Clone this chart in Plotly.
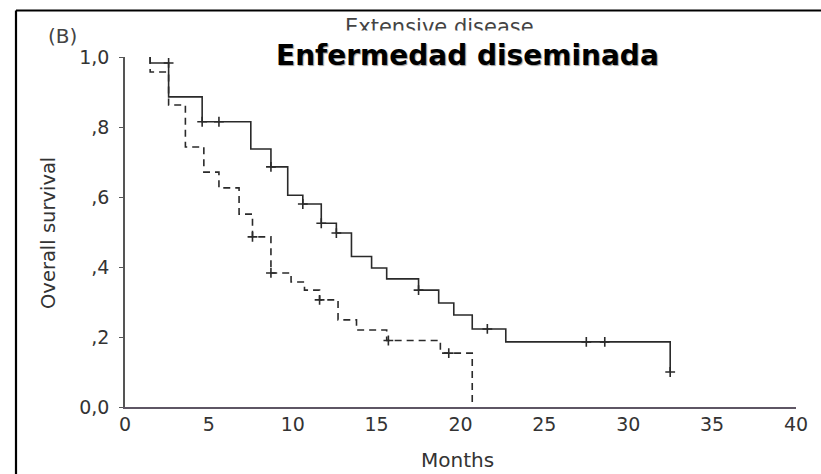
import plotly.graph_objects as go

# Kaplan-Meier step curves (months, cumulative survival)
solid_t = [1.5, 1.5, 2.6, 4.6, 7.5, 8.7, 9.7, 10.6, 11.7, 12.6, 13.5, 14.7, 15.6, 17.5, 18.7, 19.6, 20.7, 22.7, 32.5]
solid_s = [1.0, 0.983, 0.886, 0.815, 0.737, 0.686, 0.605, 0.58, 0.525, 0.497, 0.43, 0.397, 0.366, 0.334, 0.297, 0.263, 0.223, 0.186, 0.10]
solid_cens_t = [2.6, 4.6, 5.6, 8.7, 10.6, 11.7, 12.6, 17.5, 21.6, 27.5, 28.6, 32.5]
solid_cens_s = [0.983, 0.815, 0.815, 0.686, 0.58, 0.525, 0.497, 0.334, 0.223, 0.186, 0.186, 0.10]

dashed_t = [1.5, 1.5, 2.6, 3.6, 4.7, 5.6, 6.8, 7.6, 8.7, 9.9, 10.7, 11.6, 12.7, 13.8, 15.6, 18.8, 20.7]
dashed_s = [1.0, 0.957, 0.863, 0.743, 0.671, 0.626, 0.551, 0.486, 0.383, 0.357, 0.334, 0.306, 0.249, 0.22, 0.19, 0.154, 0.0]
dashed_cens_t = [7.6, 8.7, 11.6, 15.7, 19.3]
dashed_cens_s = [0.486, 0.383, 0.306, 0.19, 0.154]

x_ticks = [0, 5, 10, 15, 20, 25, 30, 35, 40]
y_ticks = [0, 0.2, 0.4, 0.6, 0.8, 1.0]
y_tick_labels = ["0,0", ",2", ",4", ",6", ",8", "1,0"]

LINE = "#2a2a2a"
FONT = "DejaVu Sans"

fig = go.Figure()

fig.add_trace(go.Scatter(x=solid_t, y=solid_s, mode="lines", line_shape="hv",
                         line=dict(color=LINE, width=1.6), cliponaxis=False, showlegend=False))
fig.add_trace(go.Scatter(x=dashed_t, y=dashed_s, mode="lines", line_shape="hv",
                         line=dict(color=LINE, width=1.6, dash="7px,5px"), cliponaxis=False, showlegend=False))
for ct, cs in ((solid_cens_t, solid_cens_s), (dashed_cens_t, dashed_cens_s)):
    fig.add_trace(go.Scatter(x=ct, y=cs, mode="markers", cliponaxis=False, showlegend=False,
                             marker=dict(symbol="cross-thin", size=7,
                                         line=dict(color=LINE, width=1.6))))

# plot area geometry (px)
L, R, T, B = 125, 25, 57, 67
W, H = 821 - L - R, 474 - T - B


def px(xp):
    return (xp - L) / W


def py(yp):
    return (474 - B - yp) / H


fig.update_layout(
    width=821, height=474,
    margin=dict(l=L, r=R, t=T, b=B, autoexpand=False),
    paper_bgcolor="white", plot_bgcolor="white",
    font=dict(family=FONT, color="#333333"),
    xaxis=dict(range=[0, 40], tickvals=x_ticks, showgrid=False, zeroline=False, automargin=False,
               showline=True, linecolor="#5e5664", linewidth=1.5, ticks="",
               ticklabelstandoff=-1, tickfont=dict(size=19, color="#333333")),
    yaxis=dict(range=[0, 1.0], tickvals=y_ticks, ticktext=y_tick_labels, showgrid=False,
               zeroline=False, showline=True, linecolor="#555555", linewidth=1.5, automargin=False,
               ticks="outside", ticklen=4, tickcolor="#555555", tickwidth=1.2,
               ticklabelstandoff=6, tickfont=dict(size=19, color="#333333")),
    shapes=[
        dict(type="line", xref="paper", yref="paper", x0=px(16), x1=px(830), y0=py(10.5), y1=py(10.5),
             line=dict(color="black", width=2.2)),
        dict(type="line", xref="paper", yref="paper", x0=px(16), x1=px(16), y0=py(10.5), y1=py(480),
             line=dict(color="black", width=2.2)),
    ],
    annotations=[
        # axis titles
        dict(text="Months", xref="paper", yref="paper", x=px(457), y=py(460), showarrow=False,
             xanchor="center", yanchor="middle", font=dict(size=20, color="#333333")),
        dict(text="Overall survival", xref="paper", yref="paper", x=px(48), y=py(233), showarrow=False,
             xanchor="center", yanchor="middle", textangle=-90, font=dict(size=19.5, color="#333333")),
        # panel labels
        dict(text="(B)", xref="paper", yref="paper", x=px(62), y=py(36), showarrow=False,
             xanchor="center", yanchor="middle", font=dict(size=20, color="#444444")),
        dict(text="Extensive disease", xref="paper", yref="paper", x=px(439), y=py(27),
             showarrow=False, xanchor="center", yanchor="middle",
             font=dict(size=21, color="#444444")),
        dict(text=" ", xref="paper", yref="paper", x=px(439), y=py(30), showarrow=False,
             xanchor="center", yanchor="top", width=260, height=8, bgcolor="white"),
        dict(text="<b>Enfermedad diseminada</b>", xref="paper", yref="paper", x=px(467), y=py(56),
             showarrow=False, xanchor="center", yanchor="middle",
             font=dict(family="Comic Sans MS, DejaVu Sans", size=28, color="black",
                       shadow="1px 1px 1px #9a9a9a")),
    ],
)

fig.write_html("out.html")
